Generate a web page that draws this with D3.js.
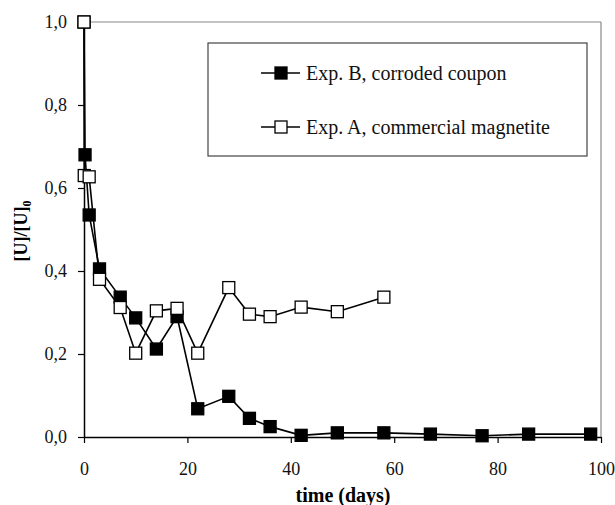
<!DOCTYPE html>
<html><head><meta charset="utf-8">
<script src="https://cdn.jsdelivr.net/npm/d3@7"></script>
<style>body{margin:0;background:#fff}svg{display:block}text{font-family:"Liberation Serif","Times New Roman",serif}</style>
</head><body>
<script>
const seriesNames = ["Exp. B, corroded coupon", "Exp. A, commercial magnetite"];
const daysB = [0, 0.2, 1, 3, 7, 10, 14, 18, 22, 28, 32, 36, 42, 49, 58, 67, 77, 86, 98];
const valuesB = [1.0, 0.68, 0.535, 0.405, 0.337, 0.287, 0.212, 0.29, 0.068, 0.098, 0.045, 0.025, 0.004, 0.01, 0.01, 0.007, 0.003, 0.007, 0.007];
const daysA = [0, 0.05, 1, 3, 7, 10, 14, 18, 22, 28, 32, 36, 42, 49, 58];
const valuesA = [1.0, 0.63, 0.627, 0.38, 0.312, 0.202, 0.304, 0.31, 0.202, 0.36, 0.296, 0.29, 0.313, 0.302, 0.337];
const xTicks = [0, 20, 40, 60, 80, 100];
const yTicks = [0, 0.2, 0.4, 0.6, 0.8, 1.0];

const W = 615, H = 505;
const m = {l: 84, r: 14, t: 22, b: 68};
const svg = d3.select("body").append("svg").attr("width", W).attr("height", H);
const x = d3.scaleLinear().domain([0, 100]).range([m.l, W - m.r]);
const y = d3.scaleLinear().domain([0, 1]).range([H - m.b, m.t]);

// frame top/right in gray
svg.append("line").attr("x1", x(0)).attr("x2", x(100)).attr("y1", y(1)).attr("y2", y(1)).attr("stroke", "#888").attr("stroke-width", 1.2);
svg.append("line").attr("x1", x(100)).attr("x2", x(100)).attr("y1", y(1)).attr("y2", y(0)).attr("stroke", "#888").attr("stroke-width", 1.2);

const fmt = d => d3.format(".1f")(d).replace(".", ",");
const xAxis = svg.append("g").attr("transform", `translate(0,${y(0)})`)
  .call(d3.axisBottom(x).tickValues(xTicks).tickSize(6).tickSizeOuter(0).tickPadding(19));
const yAxis = svg.append("g").attr("transform", `translate(${x(0)},0)`)
  .call(d3.axisLeft(y).tickValues(yTicks).tickFormat(fmt).tickSize(6).tickSizeOuter(0).tickPadding(11));
[xAxis, yAxis].forEach(g => {
  g.select(".domain").attr("stroke", "#000").attr("stroke-width", 1.5);
  g.selectAll(".tick line").attr("stroke", "#000").attr("stroke-width", 1.2);
  g.selectAll(".tick text").attr("font-size", 18).attr("fill", "#111").style("font-family", '"Liberation Serif",serif');
});

svg.append("text").attr("x", 343).attr("y", 502).attr("text-anchor", "middle")
  .attr("font-size", 20).attr("font-weight", "bold").text("time (days)");
const yl = svg.append("text").attr("transform", `translate(27,231) rotate(-90)`)
  .attr("text-anchor", "middle").attr("font-size", 18).attr("font-weight", "bold");
yl.append("tspan").text("[U]/[U]");
yl.append("tspan").attr("font-size", 12).attr("dy", 4).text("0");

const line = d3.line().x(d => x(d[0])).y(d => y(d[1]));
const dataB = daysB.map((d, i) => [d, valuesB[i]]);
const dataA = daysA.map((d, i) => [d, valuesA[i]]);
const S = 12;
function drawSeries(data, fill) {
  svg.append("path").datum(data).attr("d", line).attr("fill", "none").attr("stroke", "#000").attr("stroke-width", 1.6);
  svg.append("g").selectAll("rect").data(data).join("rect")
    .attr("x", d => x(d[0]) - S/2).attr("y", d => y(d[1]) - S/2)
    .attr("width", S).attr("height", S).attr("fill", fill).attr("stroke", "#000").attr("stroke-width", 1.3);
}
drawSeries(dataB, "#000");
drawSeries(dataA, "#fff");

// legend
const lg = svg.append("g");
lg.append("rect").attr("x", 208).attr("y", 43).attr("width", 379).attr("height", 113)
  .attr("fill", "#fff").attr("stroke", "#444").attr("stroke-width", 1.2);
seriesNames.forEach((name, i) => {
  const cy = 73 + i * 54;
  lg.append("line").attr("x1", 261).attr("x2", 300).attr("y1", cy).attr("y2", cy).attr("stroke", "#000").attr("stroke-width", 1.6);
  lg.append("rect").attr("x", 281 - S/2).attr("y", cy - S/2).attr("width", S).attr("height", S)
    .attr("fill", i === 0 ? "#000" : "#fff").attr("stroke", "#000").attr("stroke-width", 1.3);
  lg.append("text").attr("x", 306).attr("y", cy + 7).attr("font-size", 20).attr("fill", "#111").text(name);
});
</script>
</body></html>
